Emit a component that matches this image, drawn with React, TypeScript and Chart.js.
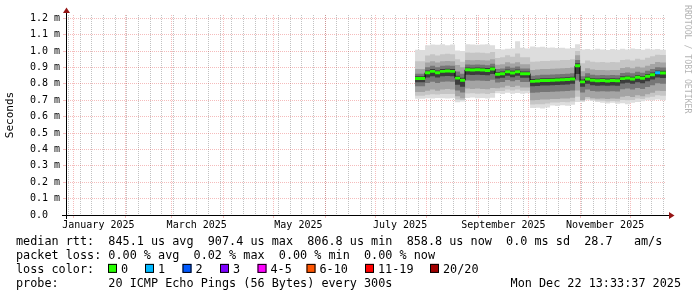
import React, { useEffect, useRef } from 'react';
import { Chart, registerables } from 'chart.js';

Chart.register(...registerables);

// ---- time samples (days since 1 Jan 2025) ----
const sampleDays = [205, 208, 211, 214, 217, 220, 223, 226, 229, 232, 235, 238, 241, 244, 247, 250, 253, 256, 259, 262, 265, 268, 271, 274, 277, 280, 283, 286, 289, 292, 295, 298, 301, 304, 307, 310, 313, 316, 319, 322, 325, 328, 331, 334, 337, 340, 343, 346, 349, 352, 355.5];

// ---- median rtt (ms) ----
const medianRtt = [0.833, 0.833, 0.868, 0.876, 0.868, 0.876, 0.878, 0.876, 0.835, 0.822, 0.886, 0.884, 0.886, 0.884, 0.882, 0.89, 0.858, 0.862, 0.874, 0.866, 0.874, 0.862, 0.862, 0.815, 0.817, 0.82, 0.82, 0.822, 0.823, 0.825, 0.826, 0.83, 0.91, 0.812, 0.83, 0.822, 0.819, 0.82, 0.818, 0.82, 0.819, 0.832, 0.836, 0.83, 0.84, 0.834, 0.846, 0.856, 0.868, 0.866, 0.866];

// ---- smoke quantiles (ms) ----
const pingMax = [1.008, 1.006, 1.035, 1.04, 1.038, 1.042, 1.036, 1.04, 1.004, 1.0, 1.042, 1.04, 1.038, 1.04, 1.042, 1.036, 1.012, 1.01, 1.014, 1.016, 1.06, 1.02, 1.016, 1.028, 1.024, 1.026, 1.02, 1.022, 1.018, 1.02, 1.016, 1.018, 1.042, 1.01, 1.012, 1.008, 1.014, 1.01, 1.006, 1.012, 1.008, 1.014, 1.01, 1.016, 1.012, 1.008, 1.014, 1.01, 1.012, 1.008, 1.008];
const pingHi4 = [0.938, 0.938, 0.973, 0.981, 0.973, 0.981, 0.983, 0.981, 0.95, 0.935, 0.991, 0.989, 0.991, 0.989, 0.987, 0.995, 0.958, 0.962, 0.974, 0.966, 0.985, 0.962, 0.962, 0.935, 0.937, 0.94, 0.94, 0.942, 0.943, 0.945, 0.946, 0.95, 1.0, 0.925, 0.943, 0.935, 0.932, 0.933, 0.931, 0.933, 0.932, 0.945, 0.949, 0.943, 0.953, 0.947, 0.959, 0.969, 0.978, 0.976, 0.976];
const pingHi3 = [0.89, 0.89, 0.93, 0.938, 0.93, 0.938, 0.94, 0.938, 0.915, 0.902, 0.946, 0.944, 0.946, 0.944, 0.942, 0.95, 0.916, 0.92, 0.932, 0.924, 0.932, 0.92, 0.92, 0.885, 0.887, 0.89, 0.89, 0.892, 0.893, 0.895, 0.896, 0.9, 0.975, 0.877, 0.895, 0.887, 0.884, 0.885, 0.883, 0.885, 0.884, 0.897, 0.901, 0.895, 0.905, 0.899, 0.911, 0.921, 0.933, 0.931, 0.931];
const pingHi2 = [0.862, 0.862, 0.902, 0.91, 0.902, 0.91, 0.912, 0.91, 0.875, 0.862, 0.918, 0.916, 0.918, 0.916, 0.914, 0.922, 0.89, 0.894, 0.906, 0.898, 0.906, 0.894, 0.894, 0.85, 0.852, 0.855, 0.855, 0.857, 0.858, 0.86, 0.861, 0.865, 0.945, 0.846, 0.864, 0.856, 0.853, 0.854, 0.852, 0.854, 0.853, 0.866, 0.87, 0.864, 0.874, 0.868, 0.88, 0.89, 0.902, 0.9, 0.9];
const pingHi1 = [0.846, 0.846, 0.882, 0.89, 0.882, 0.89, 0.892, 0.89, 0.85, 0.837, 0.9, 0.898, 0.9, 0.898, 0.896, 0.904, 0.872, 0.876, 0.888, 0.88, 0.888, 0.876, 0.876, 0.829, 0.831, 0.834, 0.834, 0.836, 0.837, 0.839, 0.84, 0.844, 0.925, 0.826, 0.844, 0.836, 0.833, 0.834, 0.832, 0.834, 0.833, 0.846, 0.85, 0.844, 0.854, 0.848, 0.86, 0.87, 0.882, 0.88, 0.88];
const pingLo1 = [0.81, 0.81, 0.838, 0.846, 0.838, 0.846, 0.848, 0.846, 0.795, 0.782, 0.856, 0.854, 0.856, 0.854, 0.852, 0.86, 0.833, 0.837, 0.849, 0.841, 0.849, 0.837, 0.837, 0.785, 0.787, 0.79, 0.79, 0.792, 0.793, 0.795, 0.796, 0.8, 0.86, 0.782, 0.8, 0.792, 0.789, 0.79, 0.788, 0.79, 0.789, 0.802, 0.806, 0.8, 0.81, 0.804, 0.816, 0.826, 0.838, 0.836, 0.836];
const pingLo2 = [0.785, 0.785, 0.805, 0.813, 0.805, 0.813, 0.815, 0.813, 0.76, 0.747, 0.821, 0.819, 0.821, 0.819, 0.817, 0.825, 0.808, 0.812, 0.824, 0.816, 0.824, 0.812, 0.812, 0.745, 0.747, 0.75, 0.75, 0.752, 0.753, 0.755, 0.756, 0.76, 0.82, 0.747, 0.765, 0.757, 0.754, 0.755, 0.753, 0.755, 0.754, 0.767, 0.771, 0.765, 0.775, 0.769, 0.781, 0.791, 0.803, 0.801, 0.801];
const pingLo3 = [0.75, 0.75, 0.758, 0.766, 0.758, 0.766, 0.768, 0.766, 0.725, 0.712, 0.771, 0.769, 0.771, 0.769, 0.767, 0.775, 0.773, 0.777, 0.789, 0.781, 0.789, 0.777, 0.777, 0.7, 0.702, 0.705, 0.705, 0.707, 0.708, 0.71, 0.711, 0.715, 0.76, 0.702, 0.72, 0.712, 0.709, 0.71, 0.708, 0.71, 0.709, 0.722, 0.726, 0.72, 0.73, 0.724, 0.736, 0.746, 0.758, 0.756, 0.756];
const pingLo4 = [0.728, 0.728, 0.734, 0.737, 0.735, 0.738, 0.738, 0.738, 0.705, 0.701, 0.741, 0.742, 0.74, 0.741, 0.738, 0.744, 0.756, 0.756, 0.766, 0.76, 0.766, 0.758, 0.758, 0.674, 0.676, 0.676, 0.68, 0.687, 0.686, 0.69, 0.688, 0.693, 0.722, 0.695, 0.709, 0.703, 0.699, 0.697, 0.693, 0.696, 0.693, 0.701, 0.7, 0.702, 0.71, 0.708, 0.717, 0.721, 0.73, 0.727, 0.727];
const pingMin = [0.709, 0.709, 0.712, 0.71, 0.714, 0.712, 0.71, 0.712, 0.688, 0.692, 0.713, 0.716, 0.712, 0.714, 0.71, 0.715, 0.742, 0.738, 0.745, 0.74, 0.744, 0.74, 0.742, 0.652, 0.654, 0.65, 0.656, 0.668, 0.665, 0.67, 0.666, 0.672, 0.69, 0.69, 0.7, 0.695, 0.69, 0.685, 0.68, 0.684, 0.678, 0.682, 0.676, 0.685, 0.69, 0.694, 0.7, 0.698, 0.704, 0.7, 0.7];

// ---- lost pings per sample (of 20) ----
const lossCount = [0, 0, 0, 0, 0, 0, 0, 0, 0, 0, 0, 0, 0, 0, 0, 0, 0, 0, 0, 0, 0, 0, 0, 0, 0, 0, 0, 0, 0, 0, 0, 0, 0, 0, 0, 0, 0, 0, 0, 0, 0, 0, 0, 0, 0, 0, 0, 0, 1, 0, 0];

// ---- axes ----
const yTicks = [0, 0.1, 0.2, 0.3, 0.4, 0.5, 0.6, 0.7, 0.8, 0.9, 1.0, 1.1, 1.2];
const monthStartDays = [0, 31, 59, 90, 120, 151, 181, 212, 243, 273, 304, 334];
const weekStartDays = [-3, 4, 11, 18, 25, 32, 39, 46, 53, 60, 67, 74, 81, 88, 95, 102, 109, 116, 123, 130, 137, 144, 151, 158, 165, 172, 179, 186, 193, 200, 207, 214, 221, 228, 235, 242, 249, 256, 263, 270, 277, 284, 291, 298, 305, 312, 319, 326, 333, 340, 347, 354];
const monthLabels = ['January 2025', 'March 2025', 'May 2025', 'July 2025', 'September 2025', 'November 2025'];
const monthLabelDays = [15, 74, 135, 196, 258, 319];

// ---- legend ----
const lossLegendLabels = ['0', '1', '2', '3', '4-5', '6-10', '11-19', '20/20'];
const lossLegendColors = ['#26ff00', '#00b8ff', '#0059ff', '#7e00ff', '#ff00ff', '#ff5500', '#ff0000', '#a10000'];
const statsLines = [
  'median rtt:  845.1 us avg  907.4 us max  806.8 us min  858.8 us now  0.0 ms sd  28.7   am/s',
  'packet loss: 0.00 % avg  0.02 % max  0.00 % min  0.00 % now',
];
const probeText = 'probe:       20 ICMP Echo Pings (56 Bytes) every 300s';
const dateText = 'Mon Dec 22 13:33:37 2025';

const MONO = "'DejaVu Sans Mono', monospace";
const GRID_MAJOR = 'rgba(225,60,60,0.34)';
const GRID_MINOR = 'rgba(120,120,120,0.45)';
const X_MIN = -4.435;
const X_MAX = 355.565;

function lossColor(n: number): string {
  if (n <= 0) return lossLegendColors[0];
  if (n === 1) return lossLegendColors[1];
  if (n === 2) return lossLegendColors[2];
  if (n === 3) return lossLegendColors[3];
  if (n <= 5) return lossLegendColors[4];
  if (n <= 10) return lossLegendColors[5];
  if (n <= 19) return lossLegendColors[6];
  return lossLegendColors[7];
}

export default function App() {
  const ref = useRef<HTMLCanvasElement>(null);

  useEffect(() => {
    const canvas = ref.current;
    if (!canvas) return;
    const pts = (arr: number[]) => arr.map((v, i) => ({ x: sampleDays[i], y: v }));
    const base = {
      pointRadius: 0,
      borderWidth: 0,
      borderColor: 'rgba(0,0,0,0)',
      stepped: true as const,
      tension: 0,
    };
    const medianBarHalf = 0.009;
    const datasets: any[] = [
      {
        ...base, data: pts(medianRtt.map((v) => v + medianBarHalf)), fill: '+1', order: 0,
        backgroundColor: lossLegendColors[0],
        segment: { backgroundColor: (c: any) => lossColor(lossCount[c.p0DataIndex]) },
      },
      { ...base, data: pts(medianRtt.map((v) => v - medianBarHalf)), fill: false, order: 1 },
      { ...base, data: pts(medianRtt), fill: false, order: 2, borderWidth: 1, borderColor: '#000000' },
      { ...base, data: pts(pingHi1), fill: '+1', backgroundColor: '#3c3c3c', order: 3 },
      { ...base, data: pts(pingLo1), fill: false, order: 4 },
      { ...base, data: pts(pingHi2), fill: '+1', backgroundColor: '#767676', order: 5 },
      { ...base, data: pts(pingLo2), fill: false, order: 6 },
      { ...base, data: pts(pingHi3), fill: '+1', backgroundColor: '#a4a4a4', order: 7 },
      { ...base, data: pts(pingLo3), fill: false, order: 8 },
      { ...base, data: pts(pingHi4), fill: '+1', backgroundColor: '#c5c5c5', order: 9 },
      { ...base, data: pts(pingLo4), fill: false, order: 10 },
      { ...base, data: pts(pingMax), fill: '+1', backgroundColor: '#dddddd', order: 11 },
      { ...base, data: pts(pingMin), fill: false, order: 12 },
    ];

    const weekTicks = weekStartDays.map((d) => ({ value: d }));
    const monthTicks: any[] = [];
    monthStartDays.forEach((d) => monthTicks.push({ value: d, kind: 'month' }));
    monthLabelDays.forEach((d, i) => monthTicks.push({ value: d, kind: 'label', text: monthLabels[i] }));
    monthTicks.sort((a, b) => a.value - b.value);

    const decorations = {
      id: 'rrdDecorations',
      beforeDraw(chart: any) {
        const c = chart.ctx;
        c.save();
        c.fillStyle = '#ffffff';
        c.fillRect(0, 0, chart.width, chart.height);
        c.restore();
      },
      afterDraw(chart: any) {
        const c = chart.ctx;
        const { left, right, top, bottom } = chart.chartArea;
        c.save();
        // axes
        c.strokeStyle = '#000000';
        c.lineWidth = 1;
        c.beginPath();
        c.moveTo(left - 4, bottom + 0.5);
        c.lineTo(right + 4, bottom + 0.5);
        c.stroke();
        c.beginPath();
        c.moveTo(left + 0.5, bottom + 4);
        c.lineTo(left + 0.5, top - 2);
        c.stroke();
        // arrows
        c.fillStyle = '#951515';
        c.beginPath();
        c.moveTo(right + 3, bottom + 0.5 - 3.5);
        c.lineTo(right + 8.5, bottom + 0.5);
        c.lineTo(right + 3, bottom + 0.5 + 3.5);
        c.closePath();
        c.fill();
        c.beginPath();
        c.moveTo(left + 0.5 - 3.5, top - 2);
        c.lineTo(left + 0.5, top - 7.5);
        c.lineTo(left + 0.5 + 3.5, top - 2);
        c.closePath();
        c.fill();

        // watermark
        c.save();
        c.translate(687, 5);
        c.rotate(Math.PI / 2);
        c.font = `8.2px ${MONO}`;
        c.fillStyle = '#b4b4b4';
        c.textAlign = 'left';
        c.textBaseline = 'middle';
        c.fillText('RRDTOOL / TOBI OETIKER', 0, 0);
        c.restore();

        // legend
        const rowY = [244.5, 258.7, 272.9, 287.1];
        c.font = `11.8px ${MONO}`;
        c.fillStyle = '#000000';
        c.textAlign = 'left';
        c.textBaseline = 'alphabetic';
        c.fillText(statsLines[0], 16, rowY[0]);
        c.fillText(statsLines[1], 16, rowY[1]);
        c.fillText('loss color:', 16, rowY[2]);
        const boxX = [108, 145, 182.5, 220, 257.5, 306.5, 365, 430];
        lossLegendLabels.forEach((lab, i) => {
          const bx = boxX[i];
          c.fillStyle = lossLegendColors[i];
          c.fillRect(bx, rowY[2] - 9, 9, 9);
          c.strokeStyle = '#000000';
          c.lineWidth = 1;
          c.strokeRect(bx + 0.5, rowY[2] - 8.5, 8, 8);
          c.fillStyle = '#000000';
          c.fillText(lab, bx + 13, rowY[2]);
        });
        c.fillText(probeText, 16, rowY[3]);
        c.textAlign = 'right';
        c.fillText(dateText, 681, rowY[3]);
        c.restore();
      },
    };

    const chart = new Chart(canvas, {
      type: 'line',
      data: { datasets },
      options: {
        animation: false,
        responsive: false,
        devicePixelRatio: 1,
        layout: { padding: { top: 15, right: 31, left: 0, bottom: 0 } },
        plugins: {
          legend: { display: false },
          tooltip: { enabled: false },
          filler: { propagate: false },
        },
        scales: {
          xWeek: {
            type: 'linear',
            position: 'bottom',
            axis: 'x',
            min: X_MIN,
            max: X_MAX,
            afterBuildTicks: (scale: any) => { scale.ticks = weekTicks.map((t) => ({ ...t })); },
            afterFit: (scale: any) => { scale.height = 0; },
            ticks: { display: false, autoSkip: false },
            grid: { color: GRID_MINOR, lineWidth: 1, drawTicks: false },
            border: { display: false, dash: [1, 1] },
            z: 1,
          },
          x: {
            type: 'linear',
            position: 'bottom',
            min: X_MIN,
            max: X_MAX,
            afterBuildTicks: (scale: any) => { scale.ticks = monthTicks.map((t) => ({ ...t })); },
            afterFit: (scale: any) => { scale.height = 82; },
            ticks: {
              autoSkip: false,
              maxRotation: 0,
              minRotation: 0,
              padding: 1,
              color: '#000000',
              font: { family: MONO, size: 10 },
              callback: (_v: any, i: number, ticks: any[]) => (ticks[i] && ticks[i].text) || '',
            },
            grid: {
              lineWidth: 1,
              tickLength: 3,
              color: (ctx: any) => (ctx.tick && ctx.tick.kind === 'month' ? GRID_MAJOR : 'rgba(0,0,0,0)'),
              tickColor: (ctx: any) => (ctx.tick && ctx.tick.kind === 'month' ? GRID_MAJOR : 'rgba(0,0,0,0)'),
              tickBorderDash: [],
            },
            border: { display: false, dash: [1, 1] },
            z: 2,
          },
          y: {
            type: 'linear',
            min: 0,
            max: 1.22,
            afterBuildTicks: (scale: any) => { scale.ticks = yTicks.map((v) => ({ value: v })); },
            afterFit: (scale: any) => { scale.width = 66; },
            ticks: {
              padding: 3,
              color: '#000000',
              font: { family: MONO, size: 10 },
              callback: (v: any) => (Number(v) === 0 ? '0.0  ' : Number(v).toFixed(1) + ' m'),
            },
            grid: {
              lineWidth: 1,
              tickLength: 3,
              color: GRID_MAJOR,
              tickColor: GRID_MAJOR,
              tickBorderDash: [],
            },
            border: { display: false, dash: [1, 1] },
            title: {
              display: true,
              text: 'Seconds',
              color: '#000000',
              font: { family: MONO, size: 11 },
              padding: { top: 4, bottom: 0 },
            },
            z: 2,
          },
        },
      },
      plugins: [decorations],
    } as any);

    return () => chart.destroy();
  }, []);

  return (
    <div style={{ position: 'fixed', left: 0, top: 0, width: 697, height: 297, background: '#fff' }}>
      <canvas ref={ref} width={697} height={297} style={{ display: 'block', width: 697, height: 297 }} />
    </div>
  );
}
